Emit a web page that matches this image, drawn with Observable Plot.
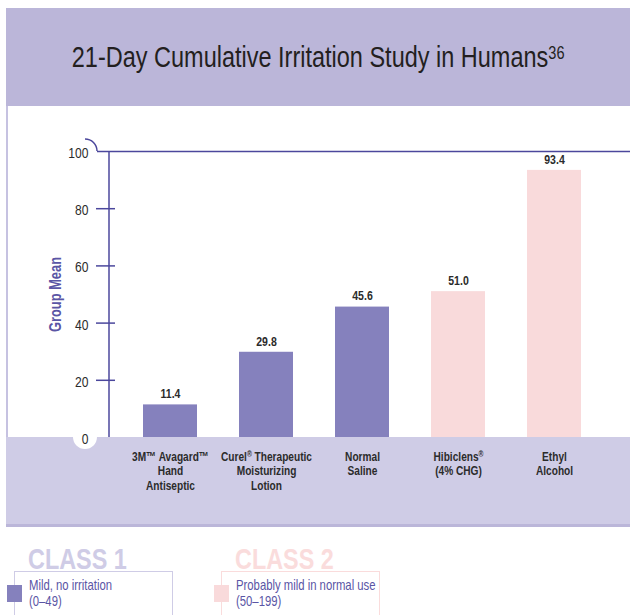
<!DOCTYPE html>
<html>
<head>
<meta charset="utf-8">
<script src="https://cdn.jsdelivr.net/npm/d3@7"></script>
<script src="https://cdn.jsdelivr.net/npm/@observablehq/plot@0.6"></script>
<style>
  html, body { margin: 0; padding: 0; background: #fff; }
  body { width: 630px; height: 615px; position: relative; overflow: hidden;
         font-family: 'Liberation Sans', Arial, sans-serif; }
  .title { position: absolute; left: 6px; top: 8px; width: 624px; height: 98px; background: #bbb6d9;
           display: flex; align-items: center; justify-content: center; color: #231f20; }
  .title span { display: inline-block; font-size: 29px; transform: scaleX(0.81); white-space: nowrap; }
  .title sup { font-size: 18px; vertical-align: 0; position: relative; top: -8px; }
  #chart { position: absolute; left: 0; top: 106px; }
  .cls { position: absolute; font-weight: bold; font-size: 30px; line-height: 1; transform: scaleX(0.78); transform-origin: left top; white-space: nowrap; }
  .box { position: absolute; top: 571px; width: 157px; height: 60px; border: 1.5px solid; }
  .sw { position: absolute; top: 585px; width: 15px; height: 17px; }
  .lt { position: absolute; top: 577px; font-size: 14.5px; line-height: 16px; color: #5a55a5; transform: scaleX(0.78); transform-origin: left top; white-space: nowrap; }
</style>
</head>
<body>
<div class="title"><span>21-Day Cumulative Irritation Study in Humans<sup>36</sup></span></div>
<div id="chart"></div>
<div id="legend"></div>
<script>
// ---- data ----
const products = ["3M™ Avagard™\nHand\nAntiseptic", "Curel® Therapeutic\nMoisturizing\nLotion", "Normal\nSaline", "Hibiclens®\n(4% CHG)", "Ethyl\nAlcohol"];
const groupMean = [11.4, 29.8, 45.6, 51.0, 93.4];
const irritationClass = [1, 1, 1, 2, 2];
const yTicks = [0, 20, 40, 60, 80, 100];
const classNames = ["CLASS 1", "CLASS 2"];
const classDescriptions = ["Mild, no irritation", "Probably mild in normal use"];
const classRanges = ["(0–49)", "(50–199)"];
const classColors = ["#8581bd", "#f9dadb"];
const classLightColors = ["#cfcce6", "#fadcdc"];

const data = products.map((p, i) => ({product: p, value: groupMean[i], cls: irritationClass[i]}));

const FONT = "'Liberation Sans', Arial, sans-serif";
const NARROW = 0.78;
const AX = "#4b479c";
const W = 630, H = 421, mL = 109, mR = 16, mT = 45, mB = 90;

const plot = Plot.plot({
  width: W, height: H, marginTop: mT, marginBottom: mB, marginLeft: mL, marginRight: mR,
  style: {fontFamily: FONT, background: "transparent", overflow: "visible", color: "#333"},
  x: {domain: products, paddingInner: 0.44, paddingOuter: 0.33, axis: null},
  y: {domain: [0, 100], axis: null, label: null},
  color: {type: "identity"},
  marks: [
    Plot.barY(data, {x: "product", y: "value", fill: d => classColors[d.cls - 1]}),
    Plot.ruleY([100], {insetLeft: -12, insetRight: -mR, stroke: AX, strokeWidth: 1.5}),
    Plot.ruleY(yTicks.filter(t => t > 0 && t < 100), {insetLeft: -13, insetRight: W - mL - mR - 6, stroke: AX, strokeWidth: 1.5}),
    Plot.axisY({ticks: yTicks, tickSize: 0, tickPadding: 21, fontSize: 15.5, dy: 1.5, label: null, tickFormat: d => String(d), fill: "#2b2b2b"}),
    Plot.text(data, {x: "product", y: "value", text: d => d.value.toFixed(1), dy: -11, fontWeight: "bold", fontSize: 13.5, fill: "#2b2b2b"}),
    Plot.text(data, {x: "product", y: 0, text: "product", lineAnchor: "top", dy: 14, fontWeight: "bold", fontSize: 13, lineHeight: 1.08, fill: "#2b2b2b"}),
    Plot.text(["Group Mean"], {text: d => d, frameAnchor: "left", textAnchor: "middle", rotate: -90, dx: -54, fontWeight: "bold", fontSize: 16.5, fill: "#5a55a5"})
  ]
});

const svg = d3.select(plot);

// superscript registered-trademark signs
(function superscriptMarks() {
  const walker = document.createTreeWalker(plot, NodeFilter.SHOW_TEXT);
  const nodes = [];
  while (walker.nextNode()) if (walker.currentNode.nodeValue.includes("®")) nodes.push(walker.currentNode);
  nodes.forEach(node => {
    const parts = node.nodeValue.split("®");
    const parent = node.parentNode;
    parts.forEach((part, i) => {
      if (i > 0) {
        const sup = document.createElementNS("http://www.w3.org/2000/svg", "tspan");
        sup.setAttribute("baseline-shift", "super");
        sup.setAttribute("font-size", "0.65em");
        sup.textContent = "®";
        parent.insertBefore(sup, node);
      }
      if (part) parent.insertBefore(document.createTextNode(part), node);
    });
    parent.removeChild(node);
  });
})();

// condense all chart text horizontally (narrow typeface look)
svg.selectAll("text").each(function() {
  const x = +this.getAttribute("x") || 0, y = +this.getAttribute("y") || 0;
  const t = this.getAttribute("transform") || "";
  this.setAttribute("transform", `${t} translate(${x},${y}) scale(${NARROW},1) translate(${-x},${-y})`);
});

// decorative panel and axis line
const ys = plot.scale("y");
const y0 = ys.apply(0), y100 = ys.apply(100);
const bg = svg.insert("g", ":first-child");
bg.append("rect").attr("x", 6).attr("y", 0).attr("width", 2).attr("height", y0).attr("fill", "#c6c2e1");
bg.append("rect").attr("x", 6).attr("y", y0).attr("width", W - 6).attr("height", mB - 3).attr("fill", "#cfcce6");
bg.append("rect").attr("x", 6).attr("y", H - 3).attr("width", W - 6).attr("height", 3).attr("fill", "#bbb6d9");
bg.append("circle").attr("cx", mL - 24).attr("cy", y0).attr("r", 12).attr("fill", "#fff");
svg.append("path").attr("d", `M${mL},${y100}V${y0}`).attr("stroke", AX).attr("stroke-width", 1.5).attr("fill", "none");
svg.append("path").attr("d", `M${mL - 24},${y100 - 12}A12,12 0 0 1 ${mL - 12},${y100}`).attr("stroke", AX).attr("stroke-width", 1.5).attr("fill", "none");
document.getElementById("chart").appendChild(plot);

// legend
const lg = document.getElementById("legend");
const offsets = [0, 207];
classNames.forEach((name, i) => {
  const ox = offsets[i];
  lg.insertAdjacentHTML("beforeend",
    `<div class="cls" style="left:${28 + ox}px;top:544px;color:${classLightColors[i]}">${name}</div>` +
    `<div class="box" style="left:${14 + ox}px;border-color:${classLightColors[i]}"></div>` +
    `<div class="sw" style="left:${7 + ox}px;background:${classColors[i]}"></div>` +
    `<div class="lt" style="left:${29 + ox}px">${classDescriptions[i]}<br>${classRanges[i]}</div>`);
});
</script>
</body>
</html>
